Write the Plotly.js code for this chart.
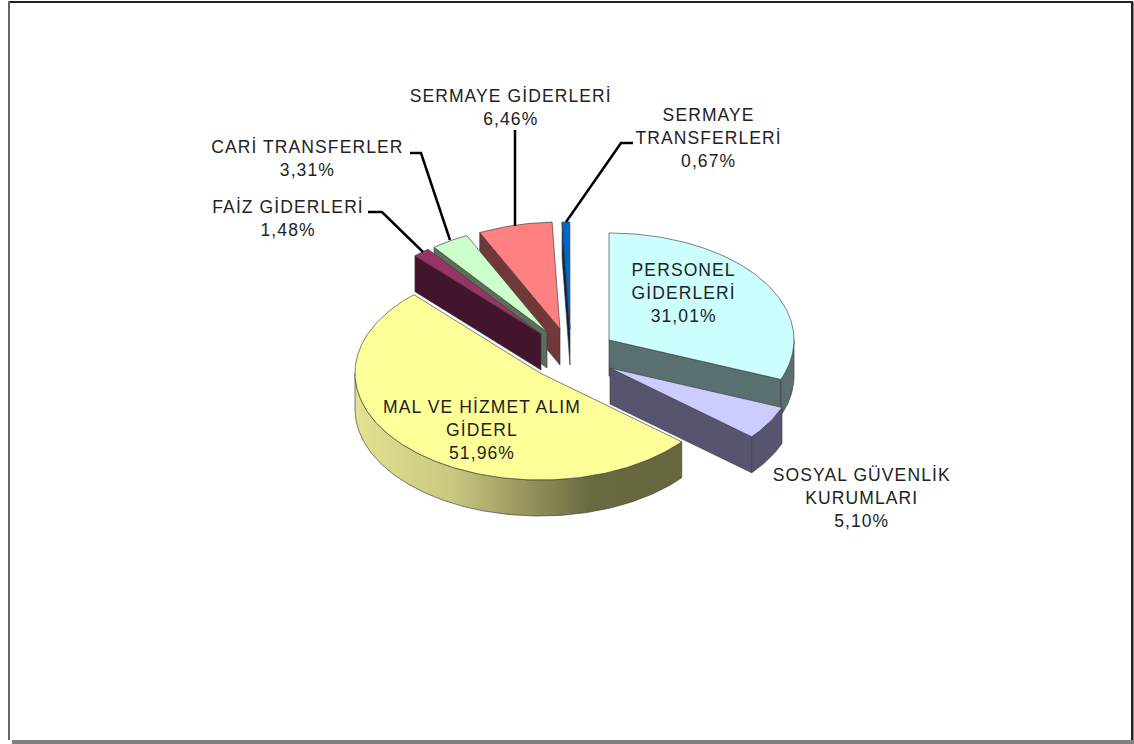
<!DOCTYPE html>
<html>
<head>
<meta charset="utf-8">
<script src="https://cdn.plot.ly/plotly-3.0.1.min.js"></script>
<style>
  html, body { margin: 0; padding: 0; background: #fff; }
  #chart { width: 1134px; height: 744px; }
  #chart .annotation-text { letter-spacing: 1.1px; }
</style>
</head>
<body>
<div id="chart"></div>
<script>
// Budget shares, clockwise from twelve o'clock
const categories = ["PERSONEL<br>GİDERLERİ", "SOSYAL GÜVENLİK<br>KURUMLARI", "MAL VE HİZMET ALIM<br>GİDERL",
                    "FAİZ GİDERLERİ", "CARİ TRANSFERLER", "SERMAYE GİDERLERİ", "SERMAYE<br>TRANSFERLERİ"];
const shares = [31.01, 5.10, 51.96, 1.48, 3.31, 6.46, 0.67];

// Slice appearance
const faceColors = ["#CCFFFF", "#CCCCFF", "#FFFF99", "#993366", "#CCFFCC", "#FF8080", "#0066CC"];
const wallColors = ["#5A7070", "#555570", "#6B6B45", "#43152D", "#5A705A", "#703838", "#00264D"];
const outerWallGradient = { 2: [[0, "#E2E292"], [0.3, "#C8C880"], [0.55, "#8F8F58"], [0.72, "#6A6A42"], [1, "#66663E"]] };

// Exploded pie geometry, in axis units
const radiusX = 185, radiusY = 107, depth = 36;
const apexX = [609, 610, 540, 541, 547, 560, 570];
const apexY = [340, 368, 373, 334, 332, 329, 329];
const drawOrder = [6, 5, 4, 3, 0, 1, 2];

// Label placement and leader lines
const labelX = [684, 862, 482, 288, 307, 510, 708];
const labelY = [293, 498, 430, 218, 158, 107, 138];
const leaderX = { 3: [368, 382, 423], 4: [410, 421, 450], 5: [515, 515], 6: [633, 621, 566] };
const leaderY = { 3: [212, 212, 252], 4: [153, 153, 240], 5: [130, 226], 6: [143, 143, 222] };

const rad = d => d * Math.PI / 180;
const rimX = (i, t) => apexX[i] + radiusX * Math.sin(rad(t));
const rimY = (i, t) => apexY[i] - radiusY * Math.cos(rad(t));
const outline = "rgba(60,60,60,0.65)";

function polygon(xs, ys, color, gradient) {
  const trace = {
    type: "scatter", mode: "lines", x: xs, y: ys, fill: "toself",
    fillcolor: color, line: { color: outline, width: 1 }, hoverinfo: "skip", showlegend: false
  };
  if (gradient) trace.fillgradient = { type: "horizontal", colorscale: gradient };
  return trace;
}

function arcAngles(from, to) {
  const out = [];
  for (let t = from; t < to; t += 1) out.push(t);
  out.push(to);
  return out;
}

function cutWall(i, t) {
  const x0 = apexX[i], y0 = apexY[i], x1 = rimX(i, t), y1 = rimY(i, t);
  return polygon([x0, x1, x1, x0, x0], [y0, y1, y1 + depth, y0 + depth, y0], wallColors[i]);
}

const traces = [];
const startAngle = [];
shares.reduce((sum, v, i) => { startAngle[i] = sum / 100 * 360; return sum + v; }, 0);
const endAngle = shares.map((v, i) => startAngle[i] + v / 100 * 360);

drawOrder.forEach(i => {
  const t0 = startAngle[i], t1 = endAngle[i];
  // flat cut faces that turn toward the viewer
  if (t0 > 180 && t0 < 360) traces.push(cutWall(i, t0));
  if (t1 > 0 && t1 < 180) traces.push(cutWall(i, t1));
  // outer rim wall on the near half of the ellipse
  const a = Math.max(t0, 90), b = Math.min(t1, 270);
  if (b > a) {
    const arc = arcAngles(a, b);
    const xs = arc.map(t => rimX(i, t)), ys = arc.map(t => rimY(i, t));
    traces.push(polygon(
      xs.concat(xs.slice().reverse(), [xs[0]]),
      ys.concat(ys.slice().reverse().map(y => y + depth), [ys[0]]),
      wallColors[i], outerWallGradient[i]
    ));
  }
  // top face
  const arc = arcAngles(t0, t1);
  traces.push(polygon(
    [apexX[i]].concat(arc.map(t => rimX(i, t)), [apexX[i]]),
    [apexY[i]].concat(arc.map(t => rimY(i, t)), [apexY[i]]),
    faceColors[i]
  ));
});

Object.keys(leaderX).forEach(i => {
  traces.push({
    type: "scatter", mode: "lines", x: leaderX[i], y: leaderY[i],
    line: { color: "#000", width: 2.5 }, hoverinfo: "skip", showlegend: false
  });
});

const annotations = categories.map((name, i) => ({
  xref: "x", yref: "y", x: labelX[i], y: labelY[i], showarrow: false, align: "center",
  text: name + "<br>" + shares[i].toFixed(2).replace(".", ",") + "%",
  font: { family: "Liberation Sans, Arial, sans-serif", size: 17.5, color: "#222" }
}));

// Window-like frame around the sheet
const frame = [
  { x0: 8, x1: 1133, y0: 1, y1: 3, c: "#222" },
  { x0: 8, x1: 10, y0: 1, y1: 740, c: "#666" },
  { x0: 1131, x1: 1133.5, y0: 2, y1: 744, c: "#222" },
  { x0: 12, x1: 1134, y0: 740, y1: 744, c: "#808080" }
];
const shapes = frame.map(f => ({
  type: "rect", xref: "x", yref: "y", x0: f.x0, x1: f.x1, y0: f.y0, y1: f.y1,
  fillcolor: f.c, line: { width: 0 }, layer: "below"
}));

Plotly.newPlot("chart", traces, {
  width: 1134, height: 744,
  margin: { l: 0, r: 0, t: 0, b: 0 },
  paper_bgcolor: "#fff", plot_bgcolor: "#fff",
  showlegend: false,
  xaxis: { range: [0, 1134], visible: false, fixedrange: true },
  yaxis: { range: [744, 0], visible: false, fixedrange: true },
  annotations, shapes
}, { displayModeBar: false, staticPlot: true });
</script>
</body>
</html>
